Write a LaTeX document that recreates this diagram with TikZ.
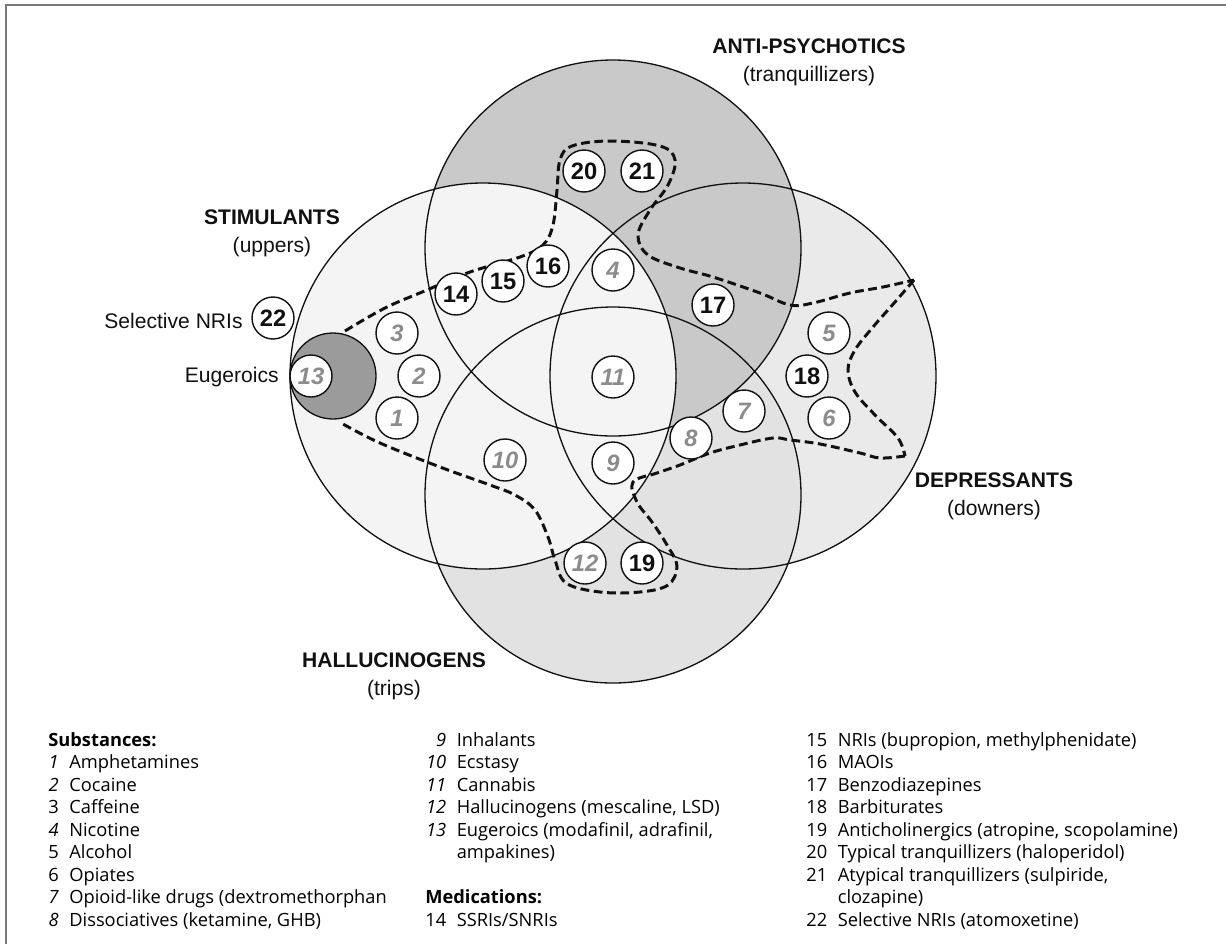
\documentclass[tikz,border=0pt]{standalone}
\usepackage{fontspec}
\setmainfont{Liberation Sans}
\newfontfamily\keyfont{Open Sans}
\usetikzlibrary{positioning}
\definecolor{ink}{HTML}{111111}
\definecolor{frame}{HTML}{7A7A7A}
\definecolor{upfill}{HTML}{F4F4F4}
\definecolor{tranqfill}{HTML}{C9C9C9}
\definecolor{downfill}{HTML}{EAEAEA}
\definecolor{tripfill}{HTML}{E2E2E2}
\definecolor{eugfill}{HTML}{9B9B9B}
\definecolor{subgray}{HTML}{8C8C8C}
\tikzset{
  ring/.style={draw=ink, line width=0.75pt},
  num/.style={circle, draw=ink, fill=white, line width=0.8pt, minimum size=0.84cm,
    inner sep=0pt, text=ink, font=\fontsize{13.5}{14}\selectfont\bfseries},
  subnum/.style={num, text=subgray, font=\fontsize{13.5}{14}\selectfont\bfseries\itshape},
  grouplbl/.style={align=center, font=\fontsize{12}{16}\selectfont, text=ink, inner sep=0pt},
  sidelbl/.style={anchor=east, font=\fontsize{12}{14}\selectfont, text=ink, inner sep=0pt},
  fence/.style={draw=ink, line width=1.7pt, dash pattern=on 5pt off 2.6pt},
  keycol/.style={anchor=north west, inner sep=0pt, align=left,
    font=\keyfont\fontsize{10.4}{12.8}\selectfont},
}
\begin{document}
\begin{tikzpicture}[x=0.02cm, y=-0.02cm]
  \useasboundingbox (0,0) rectangle (1226,944);
  \draw[frame, line width=1.2pt] (6,944) -- (6,5) -- (1226,5);

  % ---------------- the four groups ----------------
  \coordinate (up) at (483,376);
  \coordinate (tq) at (613,248);
  \coordinate (dn) at (743,376);
  \coordinate (tr) at (613,495);
  \fill[downfill] (dn) circle (193);
  \fill[tripfill] (tr) circle (188);
  \fill[tranqfill] (tq) circle (188);
  \fill[upfill] (up) circle (193);
  \draw[ring] (dn) circle (193) (tr) circle (188) (tq) circle (188) (up) circle (193);
  \filldraw[ring, fill=eugfill] (333,376) circle (43);

  % ---------------- medication outline ----------------
  \draw[fence] plot[smooth, tension=0.6] coordinates {(345,331) (385,308) (427,290)
    (470,272) (520,257) (543,245) (553,225) (557,190) (560,160) (572,146) (610,141)
    (660,146) (675,160) (668,185) (650,210) (638,235) (648,255) (680,268) (713,277)
    (760,293) (790,305) (813,303) (850,293) (883,287) (914,280)};
  \draw[fence] plot[smooth, tension=0.6] coordinates {(914,280) (895,302) (873,327)
    (855,350) (848,370) (855,392) (875,415) (898,438) (905,456)};
  \draw[fence] plot[smooth, tension=0.6] coordinates {(905,456) (880,458) (860,453)
    (820,444) (790,440) (773,438) (740,445) (710,453) (680,465) (657,473) (633,482)
    (637,502) (652,522) (667,545) (677,566) (668,585) (640,592) (600,592) (566,583)
    (555,560) (548,537) (535,510) (515,495) (490,485) (440,467) (380,443) (343,424)};

  % ---------------- substances and medications ----------------
  \node[subnum] (n1) at (397,418) {1};
  \node[subnum] (n2) at (419,376) {2};
  \node[subnum] (n3) at (397,333) {3};
  \node[subnum] (n4) at (613,270) {4};
  \node[subnum] (n5) at (829,333) {5};
  \node[subnum] (n6) at (829,418) {6};
  \node[subnum] (n7) at (744,411) {7};
  \node[subnum] (n8) at (691,438) {8};
  \node[subnum] (n9) at (613,463) {9};
  \node[subnum] (n10) at (505,460) {10};
  \node[subnum] (n11) at (613,377) {11};
  \node[subnum] (n12) at (585,563) {12};
  \node[subnum] (n13) at (311,376) {13};
  \node[num] (n14) at (456,294) {14};
  \node[num] (n15) at (503,281) {15};
  \node[num] (n16) at (548,266) {16};
  \node[num] (n17) at (713,305) {17};
  \node[num] (n18) at (807,376) {18};
  \node[num] (n19) at (642,563) {19};
  \node[num] (n20) at (584,171) {20};
  \node[num] (n21) at (642,171) {21};
  \node[num] (n22) at (273,318) {22};

  % ---------------- group names ----------------
  \node[grouplbl] (uplbl) at (272,233) {\textbf{STIMULANTS}\\(uppers)};
  \node[grouplbl] (tqlbl) at (809,62) {\textbf{ANTI-PSYCHOTICS}\\(tranquillizers)};
  \node[grouplbl] (dnlbl) at (994,496) {\textbf{DEPRESSANTS}\\(downers)};
  \node[grouplbl] (trlbl) at (394,676) {\textbf{HALLUCINOGENS}\\(trips)};
  \node[sidelbl] (nrilbl) at (243,321) {Selective NRIs};
  \node[sidelbl] (euglbl) at (279,377) {Eugeroics};

  % ---------------- key ----------------
  \node[keycol] (keya) at (48,730) {\begin{tabular}{@{}r@{\hspace{6pt}}l@{}}
    \multicolumn{2}{@{}l@{}}{\textbf{Substances:}}\\
    \textit{1} & Amphetamines\\
    \textit{2} & Cocaine\\
    3 & Caffeine\\
    \textit{4} & Nicotine\\
    5 & Alcohol\\
    6 & Opiates\\
    \textit{7} & Opioid-like drugs (dextromethorphan\\
    \textit{8} & Dissociatives (ketamine, GHB)
  \end{tabular}};
  \node[keycol] (keyb) at (425,730) {\begin{tabular}{@{}r@{\hspace{6pt}}l@{}}
    \textit{9} & Inhalants\\
    \textit{10} & Ecstasy\\
    \textit{11} & Cannabis\\
    \textit{12} & Hallucinogens (mescaline, LSD)\\
    \textit{13} & Eugeroics (modafinil, adrafinil,\\
     & ampakines)\\
     & \\
    \multicolumn{2}{@{}l@{}}{\textbf{Medications:}}\\
    14 & SSRIs/SNRIs
  \end{tabular}};
  \node[keycol] (keyc) at (806,730) {\begin{tabular}{@{}r@{\hspace{6pt}}l@{}}
    15 & NRIs (bupropion, methylphenidate)\\
    16 & MAOIs\\
    17 & Benzodiazepines\\
    18 & Barbiturates\\
    19 & Anticholinergics (atropine, scopolamine)\\
    20 & Typical tranquillizers (haloperidol)\\
    21 & Atypical tranquillizers (sulpiride,\\
     & clozapine)\\
    22 & Selective NRIs (atomoxetine)
  \end{tabular}};
\end{tikzpicture}
\end{document}
